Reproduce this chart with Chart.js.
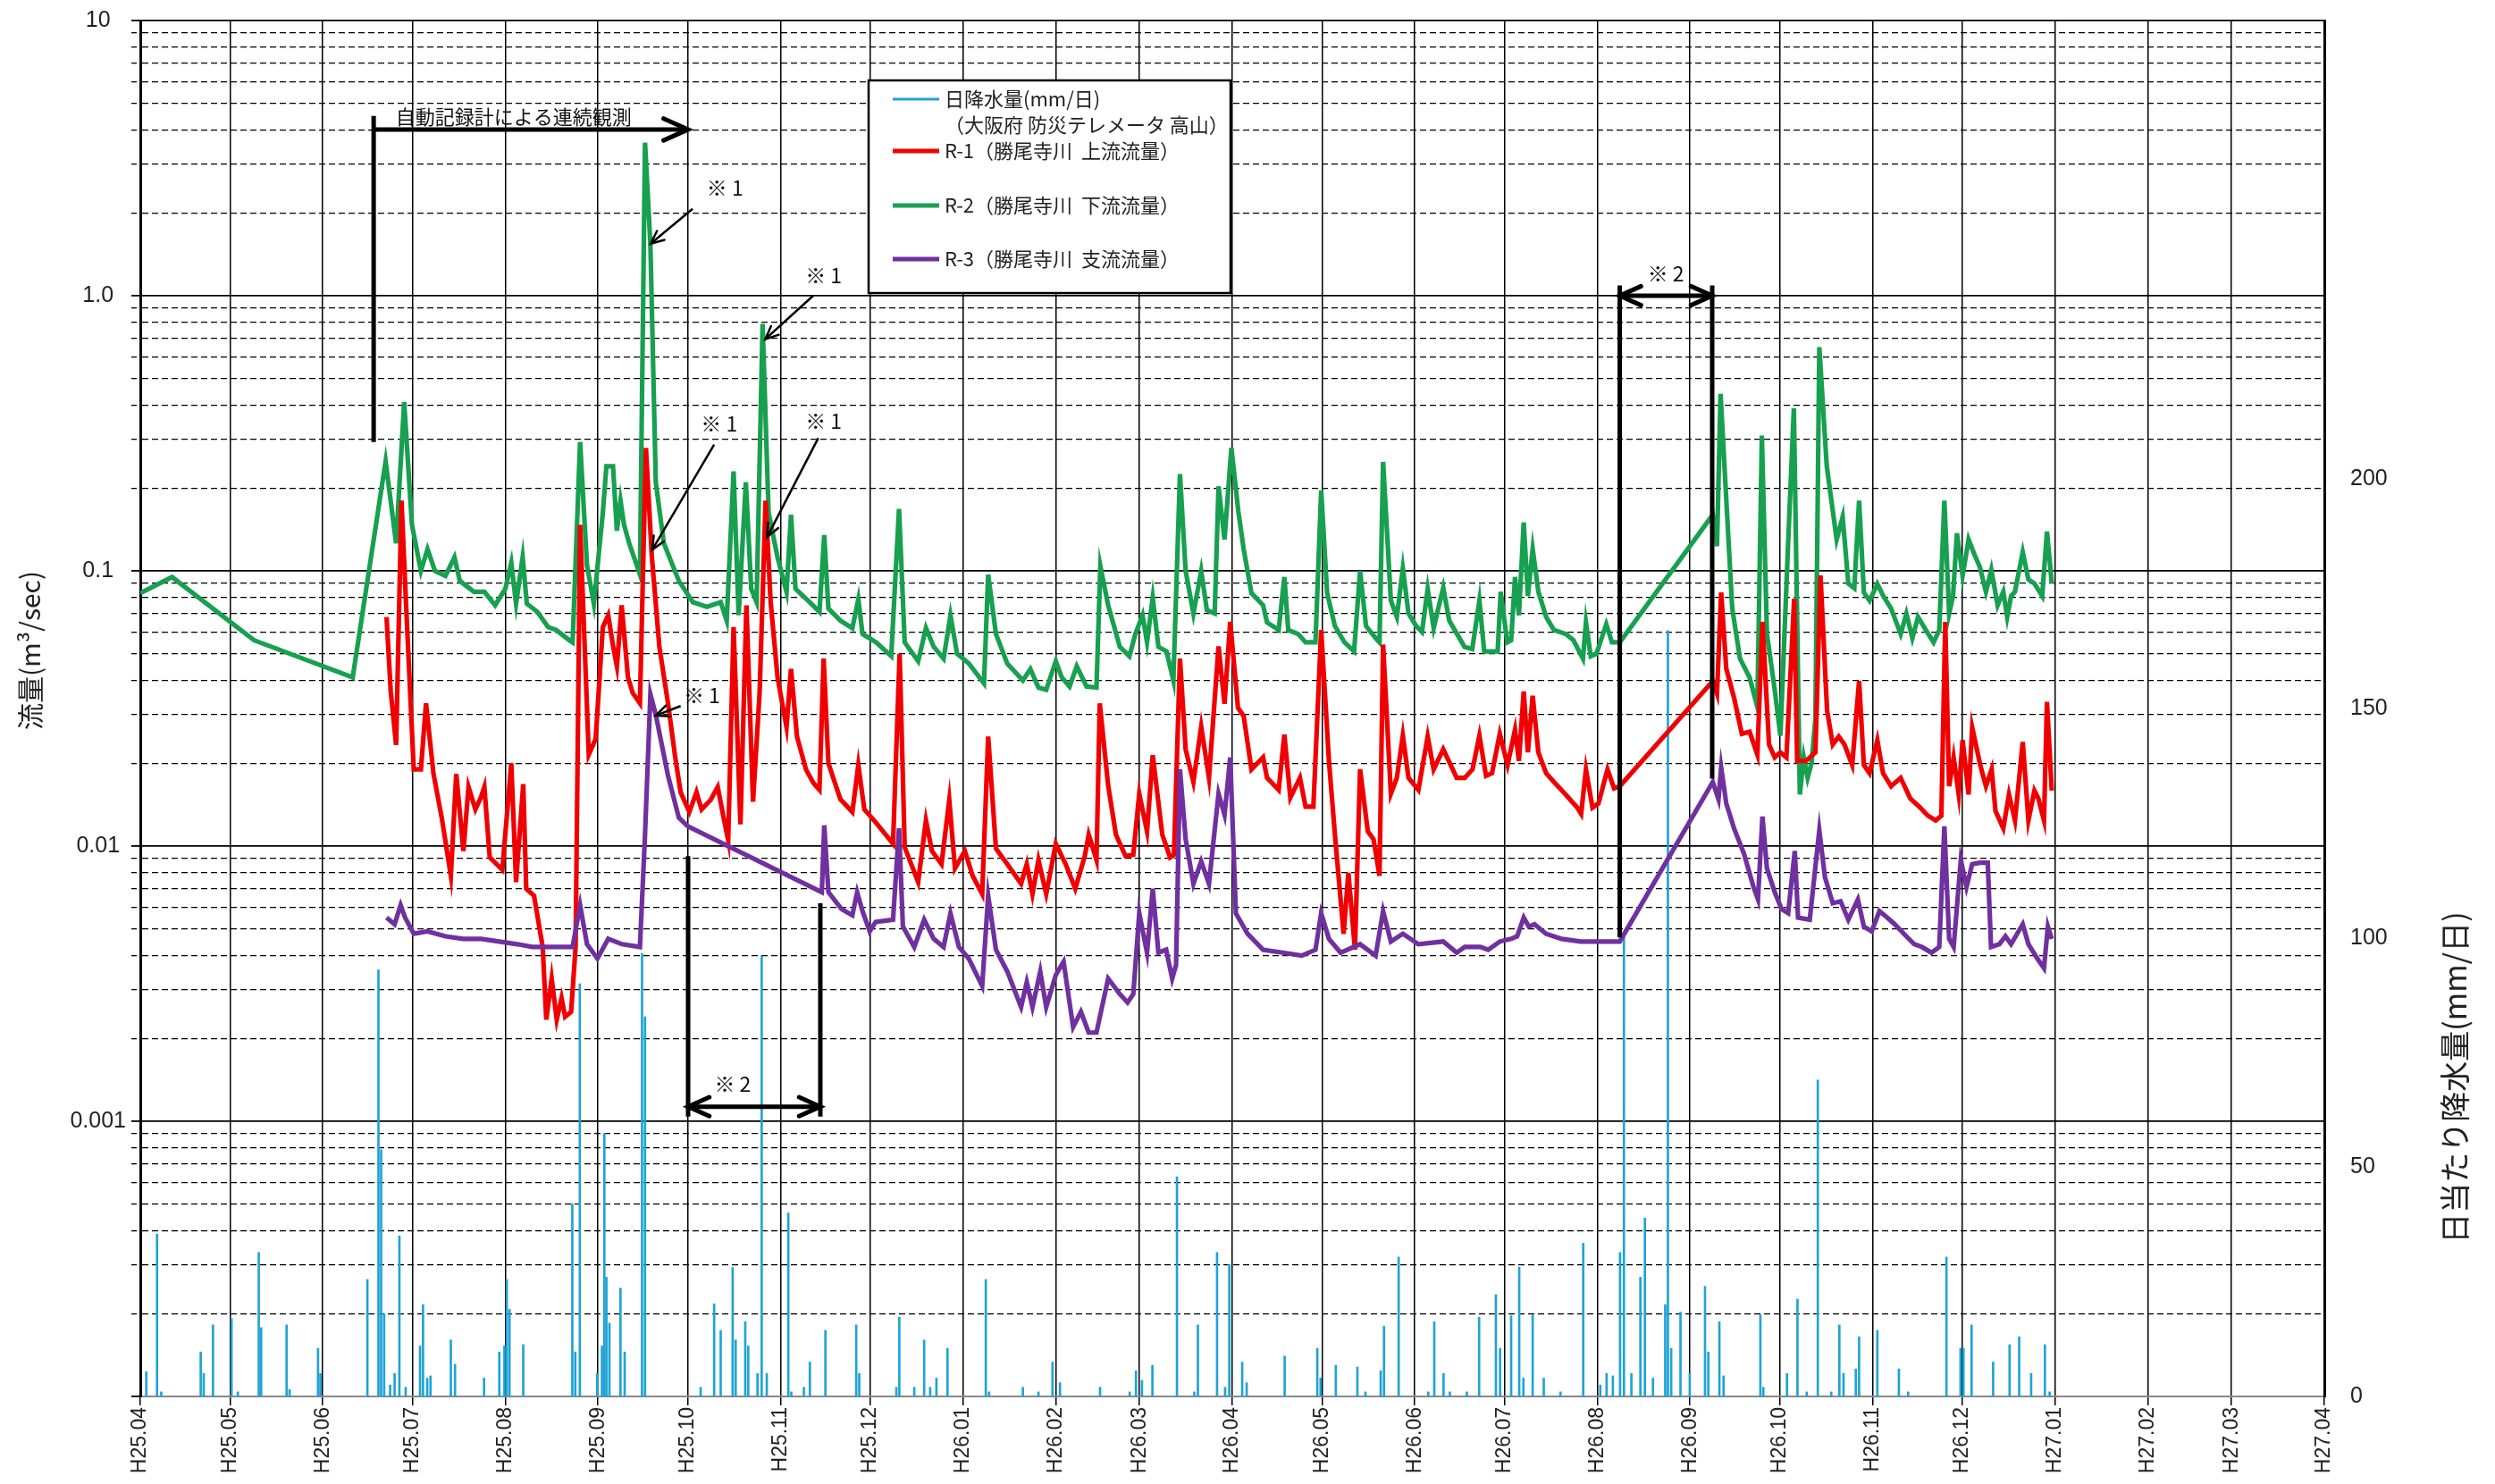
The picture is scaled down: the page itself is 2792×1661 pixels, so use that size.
<!DOCTYPE html>
<html><head><meta charset="utf-8">
<script src="https://cdn.jsdelivr.net/npm/chart.js"></script>
<style>
html,body{margin:0;padding:0;background:#fff;}
#wrap{position:relative;width:2792px;height:1661px;}
</style></head><body>
<div id="wrap"><canvas id="chart" width="2792" height="1661"></canvas></div>
<script>
// ---------- tick labels ----------
const monthLabels = ['H25.04','H25.05','H25.06','H25.07','H25.08','H25.09','H25.10','H25.11','H25.12',
  'H26.01','H26.02','H26.03','H26.04','H26.05','H26.06','H26.07','H26.08','H26.09','H26.10','H26.11','H26.12',
  'H27.01','H27.02','H27.03','H27.04'];
// day offset (from H25.04.01) of the first day of each month
const monthStartDays = [0,30,61,91,122,153,183,214,244,275,306,334,365,395,426,456,487,518,548,579,609,640,671,699,730];
const flowDecadeValues = [0.001,0.01,0.1,1,10];
const flowDecadeLabels = ['0.001','0.01','0.1','1.0','10'];
const rainLabelMax = 200;

// ---------- series: [day offset, value] ----------
const rainPoints = [[2,5.4],[5.6,35.4],[7,1],[20.2,9.7],[21.2,5],[24.3,15.6],[30.5,17],[32.6,1],[39.6,31.4],[40.4,15],
[48.9,15.6],[49.9,1.5],[59.4,10.5],[60.2,5],[75.9,25.5],[79.6,93],[80.5,53.8],[81.5,18],[83.5,2.5],[85,5],[86.6,35],
[88.7,2],[93.5,11],[94.5,20],[95.9,4],[97,4.5],[103.8,12.3],[105.2,7],[114.9,4],[120,9.7],[121.7,11],[122.5,25.5],
[123.4,19],[128,11.3],[144.4,42],[145.4,9.7],[146.9,90],[152.7,5],[154.3,11],[155.1,57.4],[155.8,26],[156.8,16],
[160.5,23.6],[161.9,9.7],[167.7,96.6],[168.7,82.8],[187.3,2],[191.8,20.2],[194,14.4],[198,28.1],[199,12.3],[202.2,16.3],
[203.2,11],[206.3,5],[207.7,96],[209.4,5],[216.6,40],[217.6,1],[221.8,2],[223.8,7.5],[229,14.4],[239.3,15.6],[240.3,5],
[252.7,2],[253.7,17.3],[258.7,2],[262,12.3],[264,2],[266.1,4],[269.8,10.5],[282.6,25.5],[283.7,1],[295,2],[300.2,1],
[304.9,7.5],[307.4,3],[320.8,2],[330.7,1],[332.8,5.6],[334.8,3.5],[338.3,6.8],[346.5,47.9],[352.3,1],[353.5,15.6],
[359.9,31.4],[362.6,2],[364,28.8],[368.3,7.5],[369.8,3],[382.5,8.8],[393.4,10.5],[394.5,4],[399.6,6.8],[406.8,6.4],
[409.5,1],[414.6,5.6],[415.7,15.3],[420.6,30.4],[430.5,1],[432.5,16.3],[435.6,5],[437.7,1],[443.4,1],[447.5,17.3],
[453.1,22.2],[454.5,10.5],[458.2,17.6],[460.9,28.2],[462.3,4],[465.4,17.8],[469.1,4],[474.7,1],[482.3,33.4],[488,2.5],
[490.1,5],[492.2,4.5],[494.6,31.4],[495.9,101],[498.4,5],[501.4,26],[502.9,38.9],[505.6,4],[509.7,20],[510.6,167],
[511.7,10.5],[514.8,18.4],[517.9,5],[523,24],[524.1,9.7],[527.8,16.3],[529.2,4.5],[541.5,17.8],[542.5,2],[550.4,5],
[553.9,21.2],[557,1],[560.7,69],[565.2,1],[567.9,15.6],[569.3,5],[573.4,6],[574.5,13],[580.6,14.4],[587.8,6],[590.9,1],
[603.7,30.4],[608.4,10.5],[609.4,10.5],[612.1,15.6],[619.3,7.5],[624.8,11.3],[628,13],[632,5],[636.6,11.3],[638.2,1]];

const r1Points = [[82.3,0.068],[83.7,0.0366],[85.5,0.0233],[87.3,0.18],[89,0.069],[91.4,0.019],[93.8,0.019],[95.5,0.033],
[98,0.0183],[100.8,0.0126],[103.8,0.0078],[105.6,0.0183],[108,0.0096],[109.7,0.0164],[112,0.0136],[113.8,0.015],
[115,0.0164],[116.8,0.0091],[121,0.0082],[124,0.020],[125.6,0.0074],[128,0.0168],[129,0.0070],[131.6,0.0066],
[134.5,0.0043],[135.7,0.00234],[137.5,0.0033],[139.2,0.00234],[140.8,0.0028],[142,0.0024],[144,0.0025],[145.5,0.0043],
[147,0.147],[149.9,0.0215],[152.2,0.0245],[154.6,0.0625],[156.4,0.069],[158,0.0535],[159.3,0.045],[160.9,0.075],
[163,0.041],[164.6,0.036],[167,0.033],[169,0.28],[171,0.112],[173.5,0.053],[176.4,0.033],[178.8,0.021],[180.6,0.0157],
[183.5,0.0133],[185.9,0.0157],[187.6,0.0136],[190.6,0.0147],[193,0.0164],[194.6,0.0133],[196.5,0.0105],[198.3,0.0625],
[200.6,0.012],[202.6,0.075],[204.8,0.0145],[207,0.036],[209,0.18],[210.7,0.077],[213,0.041],[216,0.027],[217.5,0.044],
[219.5,0.025],[222.5,0.019],[224.9,0.017],[227,0.016],[228.4,0.048],[230,0.020],[234,0.0148],[238,0.0133],[240,0.0197],
[242,0.0136],[245.8,0.0122],[251.6,0.0102],[253.8,0.050],[255.5,0.0099],[257.5,0.0087],[260,0.0074],[262.6,0.0124],
[264.6,0.0096],[267.8,0.0086],[270.4,0.0147],[272.3,0.0083],[275.6,0.0096],[278.2,0.0078],[281.4,0.0067],[283.4,0.025],
[286,0.0098],[289.8,0.0086],[294.4,0.0073],[296.3,0.0086],[298.2,0.0067],[300.2,0.0089],[302.8,0.0067],[306,0.0102],
[309.3,0.0086],[312.5,0.0070],[315.7,0.0092],[317,0.011],[319.6,0.0089],[320.7,0.033],[323.5,0.0166],[326.1,0.011],
[329.3,0.0092],[331.9,0.0093],[333.9,0.0155],[336.5,0.0113],[338.4,0.0214],[341.6,0.011],[344.2,0.0091],[345.5,0.0093],
[347.5,0.048],[349.4,0.0225],[352,0.0171],[354.6,0.0272],[357.2,0.0177],[360.4,0.0532],[362.4,0.0329],[364.3,0.0653],
[366.9,0.0318],[368.8,0.0297],[371.4,0.019],[375.3,0.021],[376.6,0.0177],[380.5,0.016],[382.4,0.0254],[384.4,0.015],
[387.6,0.0177],[389.5,0.0139],[392.1,0.0139],[394.7,0.061],[397.3,0.0204],[399.3,0.011],[402.2,0.0048],[403.8,0.008],
[406,0.0042],[407.7,0.019],[410.3,0.0113],[412.2,0.0106],[414.2,0.0078],[415.4,0.054],[418,0.0155],[420,0.0177],
[422,0.0252],[423.9,0.0177],[427.2,0.016],[430.3,0.025],[432.3,0.019],[435.5,0.0225],[440,0.0177],[442.7,0.0177],
[445.3,0.019],[447.6,0.0252],[449.8,0.018],[451.8,0.0184],[454.4,0.0256],[457,0.0197],[459.5,0.0265],[460.8,0.0204],
[462.4,0.0365],[463.8,0.0219],[465.4,0.0352],[467.3,0.0219],[469.9,0.0184],[472.5,0.0171],[476.4,0.0154],[480.3,0.0138],
[481.6,0.0131],[483.2,0.019],[485.4,0.0138],[487.4,0.0143],[490.4,0.019],[492.6,0.0162],[494.5,0.0165],[525.6,0.0398],
[527,0.0358],[528.4,0.0835],[530.1,0.0442],[532.7,0.0346],[535.3,0.0256],[537.9,0.026],[540.5,0.0215],[542.2,0.0653],
[544.4,0.0234],[546.3,0.021],[548.2,0.0219],[550.2,0.021],[552.8,0.0792],[553.8,0.0204],[556.7,0.0204],[559.9,0.0219],
[561.6,0.0962],[563.8,0.0311],[565.7,0.0234],[567.7,0.025],[569.6,0.0234],[572.2,0.0197],[574.5,0.0398],[576.1,0.0197],
[578,0.0184],[580.6,0.0243],[582.5,0.0184],[585.2,0.0165],[588.4,0.0177],[591.6,0.0149],[594.9,0.0138],[597.5,0.0129],
[600.1,0.0124],[602,0.0129],[603.3,0.0653],[604.6,0.0165],[606.1,0.021],[607.8,0.0154],[609.1,0.0243],[611.1,0.0154],
[612.3,0.027],[615,0.0197],[616.9,0.0165],[618.8,0.019],[620.1,0.0134],[622.7,0.0116],[624.6,0.0154],[626.6,0.0124],
[629.2,0.0239],[631.1,0.0124],[633.1,0.0159],[634.4,0.0149],[636.3,0.0124],[637.3,0.0334],[638.9,0.0159]];

const r2Points = [[0,0.083],[10.6,0.095],[38,0.056],[71,0.041],[82,0.25],[85.5,0.126],[88.2,0.41],[90.8,0.147],[93.8,0.10],
[96,0.12],[98.5,0.10],[102,0.096],[105,0.112],[106.8,0.092],[111.5,0.084],[115,0.084],[118.6,0.075],[122,0.086],
[124,0.107],[125.6,0.076],[127.8,0.112],[129.2,0.076],[132.7,0.071],[136.3,0.0625],[139,0.061],[143.4,0.056],
[144.5,0.055],[147,0.294],[149.3,0.105],[151.6,0.076],[154.6,0.163],[155.8,0.24],[158,0.24],[159.3,0.14],[160.5,0.18],
[161.7,0.147],[163.4,0.126],[167,0.097],[168.7,3.6],[170.5,1.54],[172.3,0.21],[175,0.126],[180,0.092],[184.7,0.077],
[189.4,0.074],[194,0.077],[196,0.066],[198.3,0.23],[200,0.069],[202.4,0.21],[204.2,0.086],[206,0.077],[208,0.79],
[210,0.163],[213,0.112],[216,0.084],[217.5,0.16],[219,0.086],[223.7,0.077],[227,0.071],[228.6,0.135],[230,0.073],
[234,0.066],[238,0.062],[240,0.079],[241.4,0.059],[246,0.055],[251,0.049],[253.6,0.168],[255.5,0.055],[260,0.047],
[262.6,0.062],[265.2,0.053],[268.5,0.048],[270.8,0.069],[273,0.05],[277,0.046],[282,0.039],[283.4,0.097],[286,0.059],
[289.8,0.046],[295,0.040],[297.5,0.044],[300.2,0.0377],[302.8,0.037],[306,0.047],[308,0.041],[310.6,0.038],[313,0.045],
[316.3,0.038],[319.6,0.0377],[320.9,0.104],[323.5,0.075],[327.4,0.053],[330.6,0.049],[332.6,0.059],[335,0.069],
[336.5,0.055],[338.4,0.080],[340.3,0.053],[343,0.051],[345.3,0.040],[347.5,0.225],[349.4,0.1],[352,0.07],[354.6,0.1],
[356.5,0.072],[359.1,0.07],[360.4,0.203],[362.4,0.13],[364.7,0.28],[367,0.165],[368.8,0.12],[371.4,0.083],[375.3,0.075],
[376.6,0.065],[380.5,0.061],[382.4,0.095],[383.7,0.061],[387,0.059],[389.5,0.055],[392.8,0.055],[394.7,0.196],
[396.7,0.083],[399.3,0.063],[402.5,0.055],[405.7,0.051],[407.7,0.1],[409.7,0.063],[412.9,0.057],[414.2,0.055],
[415.4,0.249],[418,0.078],[420,0.068],[422,0.102],[423.9,0.07],[426.5,0.063],[428.4,0.06],[430.3,0.086],[432.3,0.062],
[435.5,0.087],[437.5,0.066],[442.6,0.053],[445.2,0.052],[447.6,0.078],[449.2,0.051],[453.7,0.051],[454.7,0.084],
[456.9,0.055],[458.2,0.056],[459.5,0.095],[460.8,0.069],[462.4,0.15],[463.8,0.081],[465.4,0.12],[467.3,0.084],
[469.9,0.068],[472.5,0.061],[476.4,0.059],[479,0.056],[482.2,0.048],[483.2,0.065],[484.8,0.049],[486.7,0.05],[490,0.064],
[491.9,0.055],[494.5,0.055],[525.6,0.16],[527,0.123],[528.2,0.44],[529.5,0.24],[532.1,0.073],[534.7,0.048],[537.9,0.041],
[540.5,0.032],[542,0.31],[543.7,0.059],[546.3,0.037],[548.2,0.0252],[550.7,0.12],[552.7,0.39],[554.7,0.0154],[556,0.021],
[557.3,0.0177],[558.6,0.020],[559.9,0.029],[561.2,0.65],[563.7,0.24],[567,0.13],[569,0.157],[570.9,0.09],[572.9,0.0865],
[574.5,0.18],[576.1,0.0835],[578,0.078],[580.6,0.0897],[582.6,0.081],[585.2,0.073],[588.4,0.059],[590.3,0.07],
[592.3,0.057],[594.2,0.068],[596.8,0.061],[599.4,0.055],[601.3,0.061],[603,0.18],[604.6,0.07],[605.9,0.081],[607.2,0.137],
[609.1,0.096],[611.1,0.13],[613,0.115],[614.9,0.103],[616.9,0.084],[618.7,0.101],[620.8,0.075],[622.7,0.084],[624,0.068],
[625.3,0.081],[626.6,0.084],[629.2,0.117],[631.1,0.093],[633.1,0.09],[635.7,0.081],[637.3,0.139],[638.9,0.09]];

const r3Points = [[82.3,0.0055],[85,0.0052],[87,0.0061],[88.5,0.0055],[91.4,0.0048],[96,0.0049],[102,0.0047],[108,0.0046],
[114,0.0046],[120,0.0045],[126,0.0044],[131,0.0043],[138,0.0043],[144.5,0.0043],[147,0.0061],[149.3,0.0044],[152.8,0.0039],
[156.4,0.0046],[161,0.0044],[167,0.0043],[168.7,0.011],[170.5,0.0356],[172.3,0.030],[176.4,0.018],[180,0.0127],
[183,0.0118],[227.8,0.0068],[228.6,0.0119],[230,0.0068],[234.4,0.0059],[238,0.0056],[239.6,0.0068],[241.4,0.0058],
[243.8,0.0049],[245.8,0.0053],[251.6,0.0054],[253.6,0.0116],[254.9,0.0051],[258.7,0.0043],[262,0.0054],[265.2,0.0046],
[268.5,0.0043],[270.8,0.0057],[273.6,0.0043],[276.9,0.0039],[281.4,0.0031],[283.4,0.0066],[286,0.0042],[289.8,0.0035],
[294.4,0.0026],[296.3,0.0032],[298.2,0.0026],[300.8,0.0035],[302.8,0.0026],[306,0.0034],[308.6,0.0038],[311.8,0.0022],
[314.4,0.0025],[317,0.0021],[319.6,0.0021],[323.5,0.0033],[327.4,0.0029],[330,0.0027],[331.9,0.0029],[333.9,0.0057],
[336.5,0.0041],[338.4,0.007],[340.3,0.0041],[342.9,0.0042],[344.9,0.0033],[346.2,0.0037],[347.5,0.019],[349.4,0.0106],
[352,0.0073],[354.6,0.0088],[357.2,0.0073],[360.4,0.0155],[362.4,0.013],[364.3,0.021],[366.2,0.0057],[370.1,0.0048],
[375.3,0.0042],[381.8,0.0041],[388.2,0.004],[392.8,0.0042],[394.7,0.0057],[397.3,0.0046],[401.2,0.0041],[407.7,0.0044],
[412.9,0.0040],[415.4,0.0058],[418,0.0045],[422,0.0048],[427.2,0.0044],[435.5,0.0045],[440,0.0041],[442.7,0.0043],
[447.9,0.0043],[450.5,0.0042],[454.4,0.0045],[458.2,0.0046],[460.2,0.0047],[462.4,0.0055],[464.1,0.0051],[466,0.0052],
[469.9,0.0048],[475.1,0.0046],[481.5,0.0045],[488,0.0045],[494.5,0.0045],[525.6,0.0171],[527.5,0.0148],[528.4,0.0193],
[530.1,0.0143],[532.7,0.0116],[536,0.0094],[539.2,0.0071],[540.7,0.0064],[542.2,0.0128],[543.7,0.0083],[546.3,0.0068],
[548.6,0.0059],[550.8,0.0057],[553,0.0096],[554.1,0.0055],[558,0.0054],[561.2,0.0114],[563.1,0.0077],[565.7,0.0062],
[568.3,0.0063],[570.9,0.0054],[574.1,0.0064],[576.1,0.0051],[578.7,0.0049],[581.3,0.0058],[583.9,0.0055],[586.4,0.0052],
[590.3,0.0047],[592.9,0.0044],[595.5,0.0043],[598.7,0.0041],[601.3,0.0043],[603,0.0118],[604.6,0.0046],[606.1,0.0043],
[608.5,0.0089],[610.4,0.0071],[612.3,0.0086],[614.9,0.0087],[617.5,0.0087],[618.6,0.0043],[621.4,0.0044],[623.4,0.0047],
[625.3,0.0044],[629.2,0.0052],[631.1,0.0044],[634.1,0.0039],[636.3,0.0036],[637.6,0.0051],[638.9,0.0046]];

const seriesNames = ['日降水量(mm/日)','R-1（勝尾寺川  上流流量）','R-2（勝尾寺川  下流流量）','R-3（勝尾寺川  支流流量）'];
const rainSubName = '（大阪府 防災テレメータ 高山）';
const leftTitle = '流量(m³/sec)';
const rightTitle = '日当たり降水量(mm/日)';

// ---------- annotations (data coordinates: [day, flow]) ----------
const noteLines = [[78,4.5,78,0.294],[183.1,0.0092,183.1,0.00104],[227.3,0.0062,227.3,0.00104],
  [494.5,1.09,494.5,0.00466],[525.4,1.09,525.4,0.0176]];
const noteArrows = [
  {a:[78,4.02], b:[183.1,4.02], both:false, w:5, h:30},
  {a:[183.1,0.00113], b:[227.3,0.00113], both:true, w:5, h:26},
  {a:[494.5,1.0], b:[525.4,1.0], both:true, w:5, h:26},
  {a:[184.6,2.07], b:[170.6,1.545], both:false, w:2.5, h:16},
  {a:[224.9,1.0], b:[208.9,0.695], both:false, w:2.5, h:16},
  {a:[191.8,0.2876], b:[171.1,0.1194], both:false, w:2.5, h:16},
  {a:[226.6,0.3039], b:[209.5,0.1328], both:false, w:2.5, h:16},
  {a:[180.6,0.03228], b:[172.3,0.0298], both:false, w:2.5, h:16}];
const noteTexts = [
  {t:'自動記録計による連続観測', p:[124.8,4.46], s:22},
  {t:'※ 1', p:[195.4,2.47], s:23},{t:'※ 1', p:[228.4,1.184], s:23},{t:'※ 1', p:[193.5,0.3416], s:23},
  {t:'※ 1', p:[228.4,0.3507], s:23},{t:'※ 1', p:[187.7,0.03535], s:23},
  {t:'※ 2', p:[198,0.00137], s:23},{t:'※ 2', p:[509.9,1.207], s:23}];

const COL = {rain:'#1fa3d6', r1:'#f00000', r2:'#17a04f', r3:'#7030a0'};
const CJK = '"Noto Sans CJK JP", sans-serif';
const NUMF = '"Liberation Sans", Arial, sans-serif';

const isDecade = v => Math.abs(Math.log10(v) - Math.round(Math.log10(v))) < 1e-6;
const toXY = arr => arr.map(p => ({x:p[0], y:p[1]}));

const notesPlugin = {
  id:'notes',
  afterDatasetsDraw(chart){
    const {ctx, scales:{x, y}} = chart;
    const P = (d,v) => [x.getPixelForValue(d), y.getPixelForValue(v)];
    ctx.save();
    ctx.strokeStyle = '#000'; ctx.fillStyle = '#000'; ctx.lineCap = 'butt';
    noteLines.forEach(l => {
      const [x1,y1] = P(l[0],l[1]), [x2,y2] = P(l[2],l[3]);
      ctx.lineWidth = 5; ctx.beginPath(); ctx.moveTo(x1,y1); ctx.lineTo(x2,y2); ctx.stroke();
    });
    const head = (tx,ty,fx,fy,h,w) => {
      const ang = Math.atan2(ty-fy, tx-fx), sp = 0.42;
      ctx.lineWidth = w; ctx.lineCap = 'round';
      ctx.beginPath();
      ctx.moveTo(tx - h*Math.cos(ang-sp), ty - h*Math.sin(ang-sp));
      ctx.lineTo(tx,ty);
      ctx.lineTo(tx - h*Math.cos(ang+sp), ty - h*Math.sin(ang+sp));
      ctx.stroke();
    };
    noteArrows.forEach(a => {
      const [x1,y1] = P(a.a[0],a.a[1]), [x2,y2] = P(a.b[0],a.b[1]);
      ctx.lineWidth = a.w; ctx.lineCap = 'butt';
      ctx.beginPath(); ctx.moveTo(x1,y1); ctx.lineTo(x2,y2); ctx.stroke();
      head(x2,y2,x1,y1,a.h,a.w);
      if (a.both) head(x1,y1,x2,y2,a.h,a.w);
    });
    ctx.textAlign = 'center'; ctx.textBaseline = 'middle'; ctx.fillStyle = '#111';
    noteTexts.forEach(n => {
      const [px,py] = P(n.p[0], n.p[1]);
      ctx.font = n.s + 'px ' + CJK; ctx.fillText(n.t, px, py);
    });

    // legend box
    const L = {x:972, y:90, w:405, h:238};
    ctx.fillStyle = '#fff'; ctx.fillRect(L.x, L.y, L.w, L.h);
    ctx.lineWidth = 2.5; ctx.strokeStyle = '#000'; ctx.strokeRect(L.x, L.y, L.w, L.h);
    const rows = [
      {c:COL.rain, w:3, y:111, t:seriesNames[0]},
      {c:COL.r1, w:5, y:169, t:seriesNames[1]},
      {c:COL.r2, w:5, y:230, t:seriesNames[2]},
      {c:COL.r3, w:5, y:290, t:seriesNames[3]}];
    ctx.textAlign = 'left'; ctx.font = '22px ' + CJK;
    rows.forEach(r => {
      ctx.strokeStyle = r.c; ctx.lineWidth = r.w; ctx.lineCap = 'butt';
      ctx.beginPath(); ctx.moveTo(999, r.y); ctx.lineTo(1051, r.y); ctx.stroke();
      ctx.fillStyle = '#222'; ctx.fillText(r.t, 1057, r.y);
    });
    ctx.fillText(rainSubName, 1057, 140);

    // axis titles
    ctx.fillStyle = '#222';
    ctx.save(); ctx.translate(34, 728); ctx.rotate(-Math.PI/2);
    ctx.textAlign = 'center'; ctx.font = '30px ' + CJK; ctx.fillText(leftTitle, 0, 0); ctx.restore();
    ctx.save(); ctx.translate(2747, 1206); ctx.rotate(-Math.PI/2);
    ctx.textAlign = 'center'; ctx.font = '34px ' + CJK; ctx.fillText(rightTitle, 0, 0); ctx.restore();
    ctx.restore();
  }
};

const flowTicks = [];
for (let e = -4; e <= 0; e++) for (let m = 1; m <= 9; m++) flowTicks.push(parseFloat(m + 'e' + e));
flowTicks.push(10);

const noPad = s => { s.paddingTop = 0; s.paddingBottom = 0; };

new Chart(document.getElementById('chart'), {
  type:'line',
  data:{datasets:[
    {type:'bar', label:seriesNames[0], data:toXY(rainPoints), yAxisID:'y2', backgroundColor:COL.rain,
      barThickness:2, order:10},
    {label:seriesNames[2], data:toXY(r2Points), yAxisID:'y', borderColor:COL.r2, borderWidth:5.2, pointRadius:0, order:3, tension:0},
    {label:seriesNames[1], data:toXY(r1Points), yAxisID:'y', borderColor:COL.r1, borderWidth:5.2, pointRadius:0, order:2, tension:0},
    {label:seriesNames[3], data:toXY(r3Points), yAxisID:'y', borderColor:COL.r3, borderWidth:5.2, pointRadius:0, order:1, tension:0}
  ]},
  options:{
    responsive:false, animation:false, devicePixelRatio:1,
    layout:{padding:{top:23, left:0, right:0, bottom:0}},
    plugins:{legend:{display:false}, tooltip:{enabled:false}},
    scales:{
      x:{type:'linear', min:0, max:730, offset:false, position:'bottom',
        afterBuildTicks:s => { s.ticks = monthStartDays.map(v => ({value:v})); },
        afterFit:s => { s.height = 98; s.paddingLeft = 0; s.paddingRight = 0; },
        ticks:{autoSkip:false, minRotation:90, maxRotation:90, padding:2, color:'#222',
          font:{family:NUMF, size:23}, callback:(v,i) => monthLabels[i]},
        grid:{offset:false, color:'#000', lineWidth:1.5, tickLength:10},
        border:{display:true, color:'#888', width:2}},
      y:{type:'logarithmic', min:0.0001, max:10, position:'left',
        afterBuildTicks:s => { s.ticks = flowTicks.map(v => ({value:v})); },
        afterFit:s => { s.width = 157; noPad(s); },
        ticks:{autoSkip:false, crossAlign:'center', padding:6, color:'#222', font:{family:NUMF, size:25},
          callback:v => { const i = flowDecadeValues.findIndex(d => Math.abs(d - v) < d*1e-6); return i >= 0 ? flowDecadeLabels[i] : ''; }},
        grid:{color:'#000', lineWidth:c => (c.tick && isDecade(c.tick.value)) ? 1.8 : 1.3, tickLength:10,
          tickBorderDash:c => (c.tick && isDecade(c.tick.value)) ? [] : [6,4]},
        border:{display:true, color:'#000', width:3,
          dash:c => (c.tick && !isDecade(c.tick.value)) ? [7,4] : []}},
      y2:{type:'linear', min:0, max:300, position:'right',
        afterFit:s => { s.width = 191; noPad(s); },
        ticks:{stepSize:50, padding:29, color:'#222', font:{family:NUMF, size:25},
          callback:v => v <= rainLabelMax ? String(v) : ''},
        grid:{display:false, drawOnChartArea:false, drawTicks:false},
        border:{display:true, color:'#000', width:3}}
    }
  },
  plugins:[notesPlugin]
});
</script>
</body></html>
